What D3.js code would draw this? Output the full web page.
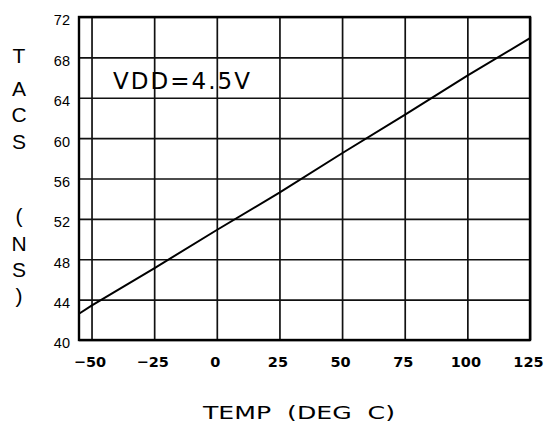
<!DOCTYPE html>
<html>
<head>
  <meta charset="utf-8">
  <title>TACS vs TEMP</title>
  <style>
    body { margin: 0; background: #fff; }
    svg { display: block; }
  </style>
</head>
<body>
  <svg width="548" height="430"></svg>
  <script src="https://cdn.jsdelivr.net/npm/d3@7/dist/d3.min.js"></script>
  <script>
  // data
  var temps = [-55, -50, -25, 0, 25, 50, 75, 100, 125];
  var tacs = [42.6, 43.4, 47.1, 50.9, 54.6, 58.5, 62.3, 66.2, 69.9];
  var xTicks = [-50, -25, 0, 25, 50, 75, 100, 125];
  var yTicks = [40, 44, 48, 52, 56, 60, 64, 68, 72];
  var yTitle = ["T", "A", "C", "S", "(", "N", "S", ")"];
  var yTitlePos = [63, 96, 122, 149, 223, 251, 277, 303]; // baselines
  var label = "VDD=4.5V";
  var xTitle = "TEMP\u00a0\u00a0(DEG\u00a0\u00a0C)";

  var svg = d3.select("svg");
  var m = { left: 79, right: 530, top: 17, bottom: 340 };

  var x = d3.scaleLinear().domain([-55, 125]).range([m.left, m.right]);
  var y = d3.scaleLinear().domain([40, 72]).range([m.bottom, m.top]);

  // grid + x labels
  var gx = svg.append("g")
    .attr("transform", "translate(0," + m.bottom + ")")
    .call(d3.axisBottom(x).tickValues(xTicks).tickSize(-(m.bottom - m.top)).tickPadding(17));
  gx.select(".domain").remove();
  gx.selectAll("line").attr("stroke", "#111").attr("stroke-width", 1.7);
  gx.selectAll("text")
    .attr("fill", "#000")
    .attr("dx", -2)
    .style("font-family", "'DejaVu Sans', sans-serif")
    .style("font-weight", "bold")
    .style("font-size", "14.5px");

  // grid + y labels
  var gy = svg.append("g")
    .attr("transform", "translate(" + m.left + ",0)")
    .call(d3.axisLeft(y).tickValues(yTicks).tickSize(-(m.right - m.left)).tickPadding(9));
  gy.select(".domain").remove();
  gy.selectAll("line").attr("stroke", "#111").attr("stroke-width", 1.7);
  gy.selectAll("text")
    .attr("fill", "#000")
    .attr("dy", "0.55em")
    .style("font-family", "'Liberation Sans', Arial, sans-serif")
    .style("font-size", "14.5px");

  // frame
  svg.append("rect")
    .attr("x", m.left).attr("y", m.top)
    .attr("width", m.right - m.left).attr("height", m.bottom - m.top)
    .attr("fill", "none")
    .attr("stroke", "#000")
    .attr("stroke-width", 2.4);

  // curve
  var line = d3.line()
    .x(function(d, i) { return x(temps[i]); })
    .y(function(d) { return y(d); });
  svg.append("path")
    .datum(tacs)
    .attr("d", line)
    .attr("fill", "none")
    .attr("stroke", "#000")
    .attr("stroke-width", 2);

  // in-plot label
  svg.append("text")
    .attr("x", 113).attr("y", 89)
    .attr("textLength", 137)
    .attr("lengthAdjust", "spacing")
    .style("font-family", "'DejaVu Sans', sans-serif")
    .style("font-size", "23px")
    .text(label);

  // y title, stacked letters
  svg.append("g").selectAll("text")
    .data(yTitle)
    .enter()
    .append("text")
    .attr("x", 19)
    .attr("y", function(d, i) { return yTitlePos[i]; })
    .attr("text-anchor", "middle")
    .style("font-family", "'Liberation Sans', Arial, sans-serif")
    .style("font-size", "21px")
    .text(function(d) { return d; });

  // x title
  svg.append("text")
    .attr("x", 203).attr("y", 419)
    .attr("textLength", 192)
    .attr("lengthAdjust", "spacingAndGlyphs")
    .style("font-family", "'DejaVu Sans', sans-serif")
    .style("font-size", "17px")
    .text(xTitle);
  </script>
</body>
</html>
